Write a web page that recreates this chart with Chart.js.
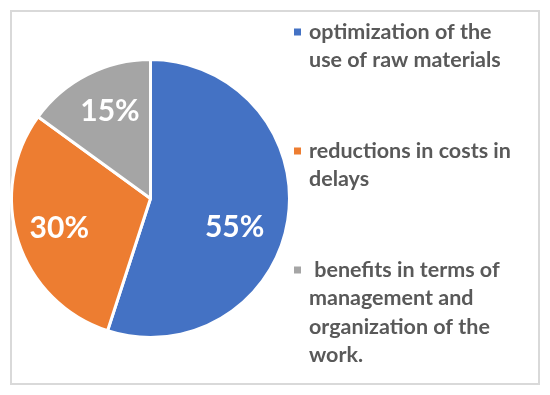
<!DOCTYPE html>
<html>
<head>
<meta charset="utf-8">
<script src="https://cdn.jsdelivr.net/npm/chart.js@4.4.0/dist/chart.umd.min.js"></script>
<style>
    html, body { margin: 0; padding: 0; background: #fff; }
    #frame {
        position: absolute; left: 10px; top: 10px;
        width: 526px; height: 371px;
        border: 2px solid #d9d9d9;
    }
    #wrap { position: absolute; left: 0; top: 0; width: 550px; height: 395px; }
</style>
</head>
<body>
<div id="frame"></div>
<div id="wrap"><canvas id="pieChart" width="550" height="395"></canvas></div>
<script>
const categories = [
    ['optimization of the', 'use of raw materials'],
    ['reductions in costs in', 'delays'],
    [' benefits in terms of', 'management and', 'organization of the', 'work.']
];
const shares = [55, 30, 15];
const sliceColors = ['#4472C4', '#ED7D31', '#A5A5A5'];

// label placement nudges (degrees, share of radius) like Excel's best fit
const labelTurn = [10, 0, 2];
const labelDepth = [0.64, 0.69, 0.69];

// percentage text on each slice
const sliceLabels = {
    id: 'sliceLabels',
    afterDatasetsDraw(chart) {
        const ctx = chart.ctx;
        const meta = chart.getDatasetMeta(0);
        ctx.save();
        ctx.font = 'bold 30px Lato';
        ctx.fillStyle = '#ffffff';
        ctx.textAlign = 'center';
        ctx.textBaseline = 'middle';
        meta.data.forEach((arc, i) => {
            const p = arc.getProps(['x', 'y', 'startAngle', 'endAngle', 'outerRadius'], true);
            const mid = (p.startAngle + p.endAngle) / 2 + labelTurn[i] * Math.PI / 180;
            const r = p.outerRadius * labelDepth[i];
            ctx.fillText(shares[i] + '%', p.x + Math.cos(mid) * r, p.y + Math.sin(mid) * r);
        });
        ctx.restore();
    }
};

// legend on the right, multi-line entries
const sideLegend = {
    id: 'sideLegend',
    afterDraw(chart) {
        const ctx = chart.ctx;
        const lineH = 28.5;
        const itemGap = 62;
        let y = 32;
        ctx.save();
        ctx.font = 'bold 21.5px Lato';
        ctx.textAlign = 'left';
        ctx.textBaseline = 'middle';
        chart.data.labels.forEach((lines, i) => {
            ctx.fillStyle = sliceColors[i];
            ctx.fillRect(294, y - 3.5, 7, 7);
            ctx.fillStyle = '#595959';
            lines.forEach((line, j) => {
                ctx.fillText(line, 309, y + j * lineH);
            });
            y += (lines.length - 1) * lineH + lineH + itemGap;
        });
        ctx.restore();
    }
};

new Chart(document.getElementById('pieChart'), {
    type: 'pie',
    data: {
        labels: categories,
        datasets: [{
            data: shares,
            backgroundColor: sliceColors,
            borderColor: '#ffffff',
            borderWidth: 3
        }]
    },
    options: {
        responsive: false,
        animation: false,
        layout: { padding: { left: 10, right: 259, top: 58, bottom: 56 } },
        plugins: {
            legend: { display: false },
            tooltip: { enabled: false }
        }
    },
    plugins: [sliceLabels, sideLegend]
});
</script>
</body>
</html>
